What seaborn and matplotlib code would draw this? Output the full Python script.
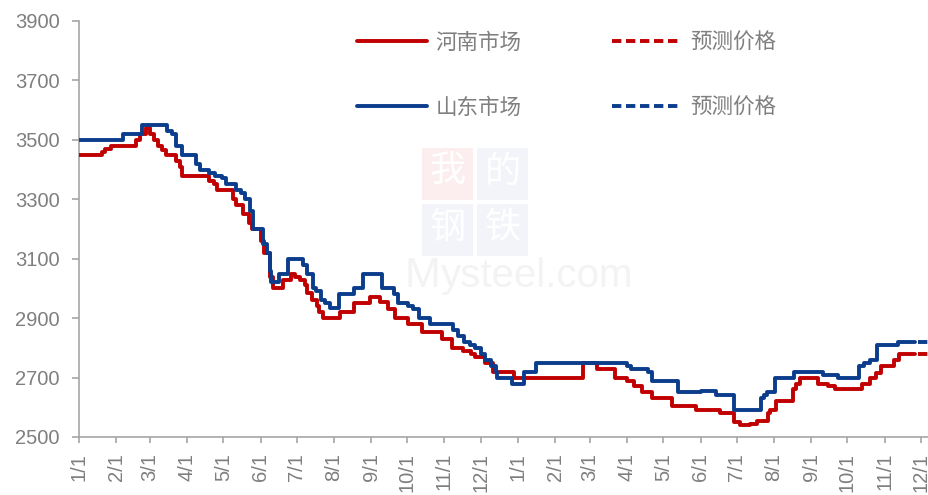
import numpy as np
import pandas as pd
import matplotlib
matplotlib.use("Agg")
import matplotlib.pyplot as plt
from matplotlib.lines import Line2D
from matplotlib.patches import Rectangle
import seaborn as sns

# ---------------- data (change points of daily step prices) ----------------
henan_dates = [
    "2023-01-01", "2023-01-20", "2023-01-23", "2023-01-28", "2023-02-17", "2023-02-21",
    "2023-02-26", "2023-03-01", "2023-03-04", "2023-03-08", "2023-03-11", "2023-03-14",
    "2023-03-23", "2023-03-26", "2023-03-28", "2023-04-19", "2023-04-23", "2023-04-26",
    "2023-05-09", "2023-05-12", "2023-05-17", "2023-05-22", "2023-05-25", "2023-06-01",
    "2023-06-04", "2023-06-09", "2023-06-11", "2023-06-20", "2023-06-26", "2023-06-30",
    "2023-07-04", "2023-07-08", "2023-07-10", "2023-07-14", "2023-07-18", "2023-07-20",
    "2023-07-23", "2023-08-06", "2023-08-18", "2023-08-31", "2023-09-08", "2023-09-15",
    "2023-09-21", "2023-10-02", "2023-10-13", "2023-10-30", "2023-11-07", "2023-11-16",
    "2023-11-23", "2023-11-26", "2023-12-05", "2023-12-11", "2023-12-29", "2024-02-24",
    "2024-03-07", "2024-03-22", "2024-04-01", "2024-04-07", "2024-04-13", "2024-04-22",
    "2024-05-08", "2024-05-28", "2024-06-17", "2024-06-29", "2024-07-04", "2024-07-12",
    "2024-07-18", "2024-07-27", "2024-07-29", "2024-08-03", "2024-08-17", "2024-08-19",
    "2024-08-23", "2024-09-07", "2024-09-15", "2024-09-21", "2024-10-13", "2024-10-20",
    "2024-10-25", "2024-10-29", "2024-11-09", "2024-11-13", "2024-11-26",
]
henan_prices = [
    3450, 3460, 3470, 3480, 3500, 3520,
    3540, 3520, 3500, 3480, 3465, 3450,
    3430, 3410, 3380, 3360, 3350, 3330,
    3300, 3280, 3250, 3220, 3200, 3160,
    3120, 3040, 3000, 3030, 3050, 3040,
    3030, 3010, 2985, 2960, 2940, 2920,
    2900, 2920, 2950, 2970, 2955, 2930,
    2900, 2880, 2855, 2830, 2800, 2790,
    2780, 2770, 2750, 2720, 2700, 2750,
    2730, 2700, 2690, 2670, 2650, 2630,
    2605, 2590, 2580, 2550, 2540, 2545,
    2555, 2580, 2590, 2620, 2660, 2680,
    2700, 2680, 2670, 2660, 2680, 2700,
    2715, 2740, 2760, 2780, 2780,
]

shandong_dates = [
    "2023-01-01", "2023-02-07", "2023-02-22", "2023-03-15", "2023-03-19", "2023-03-23",
    "2023-03-28", "2023-04-08", "2023-04-12", "2023-04-19", "2023-04-24", "2023-04-30",
    "2023-05-03", "2023-05-12", "2023-05-16", "2023-05-19", "2023-05-23", "2023-05-26",
    "2023-06-03", "2023-06-06", "2023-06-09", "2023-06-10", "2023-06-16", "2023-06-24",
    "2023-07-06", "2023-07-10", "2023-07-15", "2023-07-17", "2023-07-21", "2023-07-25",
    "2023-07-29", "2023-08-05", "2023-08-18", "2023-08-25", "2023-09-10", "2023-09-20",
    "2023-09-23", "2023-10-02", "2023-10-06", "2023-10-11", "2023-10-20", "2023-11-08",
    "2023-11-12", "2023-11-17", "2023-11-22", "2023-11-26", "2023-12-01", "2023-12-05",
    "2023-12-10", "2023-12-14", "2023-12-15", "2023-12-27", "2024-01-06", "2024-01-16",
    "2024-04-01", "2024-04-04", "2024-04-18", "2024-04-22", "2024-05-13", "2024-06-01",
    "2024-06-14", "2024-06-29", "2024-07-21", "2024-07-24", "2024-07-26", "2024-08-02",
    "2024-08-18", "2024-09-11", "2024-09-23", "2024-10-11", "2024-10-15", "2024-10-20",
    "2024-10-26", "2024-11-12", "2024-11-26",
]
shandong_prices = [
    3500, 3520, 3550, 3530, 3520, 3480,
    3450, 3420, 3400, 3390, 3380, 3370,
    3350, 3330, 3320, 3300, 3260, 3200,
    3150, 3120, 3060, 3020, 3050, 3100,
    3080, 3050, 3000, 2990, 2960, 2950,
    2935, 2980, 3000, 3050, 3000, 2980,
    2950, 2940, 2930, 2900, 2880, 2860,
    2840, 2820, 2810, 2800, 2780, 2760,
    2740, 2720, 2700, 2680, 2720, 2750,
    2740, 2730, 2720, 2690, 2650, 2655,
    2640, 2590, 2630, 2640, 2650, 2700,
    2720, 2710, 2700, 2740, 2750, 2760,
    2810, 2820, 2820,
]

forecast_dates = ["2024-11-29", "2024-12-08"]
henan_forecast = [2780, 2780]
shandong_forecast = [2820, 2820]

tick_dates = pd.date_range("2023-01-01", "2024-12-01", freq="MS")
tick_labels = [f"{d.month}/1" for d in tick_dates]

series_names = ["河南市场", "山东市场"]
forecast_name = "预测价格"
colors = {"河南市场": "#C00000", "山东市场": "#0B3D8C"}

y_ticks = [2500, 2700, 2900, 3100, 3300, 3500, 3700, 3900]

# ---------------- build frames ----------------
df_actual = pd.concat([
    pd.DataFrame({"date": pd.to_datetime(henan_dates), "price": henan_prices, "series": "河南市场"}),
    pd.DataFrame({"date": pd.to_datetime(shandong_dates), "price": shandong_prices, "series": "山东市场"}),
], ignore_index=True)
df_fc = pd.concat([
    pd.DataFrame({"date": pd.to_datetime(forecast_dates), "price": henan_forecast, "series": "河南市场"}),
    pd.DataFrame({"date": pd.to_datetime(forecast_dates), "price": shandong_forecast, "series": "山东市场"}),
], ignore_index=True)

# ---------------- style ----------------
sns.set_theme(style="white")
plt.rcParams["font.family"] = ["Liberation Sans", "Noto Sans CJK SC", "DejaVu Sans"]
gray = "#7F7F7F"
spine_gray = "#A6A6A6"

fig = plt.figure(figsize=(9.29, 4.95), dpi=100)
ax = fig.add_axes([79 / 929, 58 / 495, 850 / 929, 416 / 495])

# watermark (decorative)
def fx(px):
    return px / 929
def fy(py):
    return 1 - py / 495

boxes = [(422, 148, "我", "#FCEEEE"), (477, 148, "的", "#F3F4F9"),
         (422, 204, "钢", "#F3F4F9"), (477, 204, "铁", "#F3F4F9")]
for bx, by, ch, fc in boxes:
    ax.add_patch(Rectangle((fx(bx), fy(by + 52)), 51 / 929, 52 / 495, transform=fig.transFigure,
                           facecolor=fc, edgecolor="none", zorder=0.2))
    ax.text(fx(bx + 25.5), fy(by + 24), ch, transform=fig.transFigure, ha="center", va="center",
            fontsize=26, color="white", family=["Noto Sans CJK SC"], zorder=0.3)
ax.text(fx(404), fy(287), "M", transform=fig.transFigure, ha="left", va="baseline",
        fontsize=31, color="#F3F3F3", zorder=0.2)
ax.text(fx(441), fy(287), "ysteel.com", transform=fig.transFigure, ha="left", va="baseline",
        fontsize=29, color="#F3F3F3", zorder=0.2)

# lines
sns.lineplot(data=df_actual, x="date", y="price", hue="series", palette=colors,
             estimator=None, drawstyle="steps-post", linewidth=2.8, legend=False, ax=ax, zorder=3)
for name, sub in df_fc.groupby("series"):
    sns.lineplot(data=sub, x="date", y="price", color=colors[name], estimator=None,
                 linewidth=2.8, legend=False, ax=ax, zorder=3, dashes=False,
                 linestyle=(0, (2.4, 1.2)))

# axes
ax.set_xlim(pd.Timestamp("2023-01-01"), pd.Timestamp("2024-12-08"))
ax.set_ylim(2500, 3900)
ax.set_yticks(y_ticks)
ax.set_xticks(tick_dates)
ax.set_xticklabels(tick_labels, rotation=90)
ax.set_xlabel("")
ax.set_ylabel("")
for s in ["top", "right"]:
    ax.spines[s].set_visible(False)
for s in ["left", "bottom"]:
    ax.spines[s].set_color(spine_gray)
    ax.spines[s].set_linewidth(1.2)
ax.tick_params(axis="y", direction="out", length=5, width=1.2, color=spine_gray,
               labelsize=14.5, labelcolor=gray, pad=9, left=True)
ax.tick_params(axis="x", direction="out", length=4.5, width=1.2, color=spine_gray,
               labelsize=14.5, labelcolor=gray, pad=7, bottom=True)
ax.grid(False)

# legend
handles = [
    Line2D([], [], color=colors["河南市场"], lw=2.8),
    Line2D([], [], color=colors["山东市场"], lw=2.8),
    Line2D([], [], color=colors["河南市场"], lw=2.8, linestyle=(0, (2.4, 1.2))),
    Line2D([], [], color=colors["山东市场"], lw=2.8, linestyle=(0, (2.4, 1.2))),
]
labels = [series_names[0], series_names[1], forecast_name, forecast_name]
leg = fig.legend(handles, labels, ncol=2, loc="upper left",
                 bbox_to_anchor=(fx(357), fy(32)), bbox_transform=fig.transFigure,
                 frameon=False, borderpad=0, borderaxespad=0,
                 handlelength=3.25, handletextpad=0.4, columnspacing=4.2,
                 labelspacing=1.98, prop={"family": ["Noto Sans CJK SC"], "size": 15.5})
for t in leg.get_texts():
    t.set_color(gray)

fig.savefig("out.png", dpi=100, facecolor="white")
